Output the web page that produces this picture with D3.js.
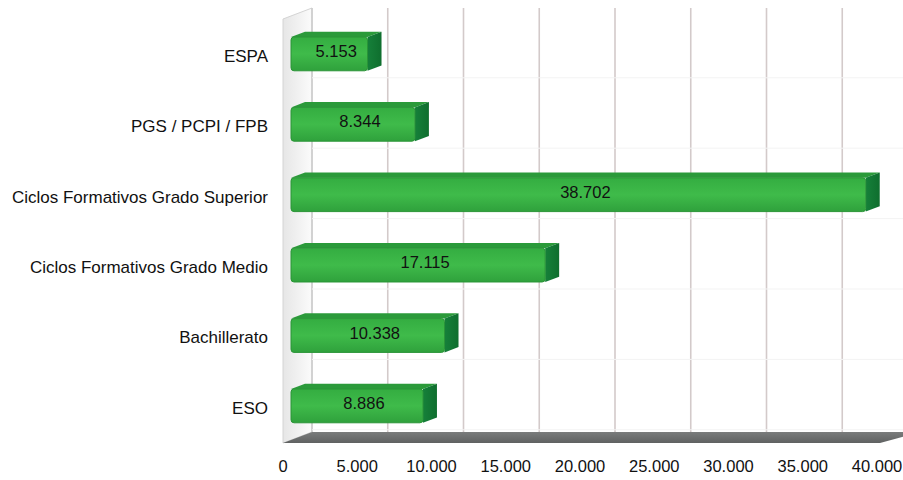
<!DOCTYPE html>
<html><head><meta charset="utf-8">
<script src="https://cdn.jsdelivr.net/npm/d3@7"></script>
<style>body{margin:0;background:#fff}svg{display:block}text{font-family:"Liberation Sans",Arial,sans-serif}</style>
</head><body>
<svg id="c" width="903" height="480"></svg>
<script>
const categories = ["ESPA","PGS / PCPI / FPB","Ciclos Formativos Grado Superior","Ciclos Formativos Grado Medio","Bachillerato","ESO"];
const values = [5153, 8344, 38702, 17115, 10338, 8886];
const valueLabels = ["5.153","8.344","38.702","17.115","10.338","8.886"];
const tickValues = [0,5000,10000,15000,20000,25000,30000,35000,40000];
const tickLabels = ["0","5.000","10.000","15.000","20.000","25.000","30.000","35.000","40.000"];

const svg = d3.select("#c");
const defs = svg.append("defs");
const x = d3.scaleLinear().domain([0,40000]).range([283,877]);
const y = d3.scaleBand().domain(categories).range([18.7,441.1]).paddingInner(0.52).paddingOuter(0.26);

const DX = 29, DY = -11;           // full depth of plot box
const bF = 8/29, bB = 22/29;       // bar front/back depth fractions
const floorY = 443, topY = 19;

// gradients
const lw = defs.append("linearGradient").attr("id","lw").attr("x1",0).attr("x2",1).attr("y1",0).attr("y2",0);
lw.append("stop").attr("offset",0).attr("stop-color","#e6e6e6");
lw.append("stop").attr("offset",1).attr("stop-color","#fbfbfb");
const fl = defs.append("linearGradient").attr("id","fl").attr("x1",0).attr("x2",0).attr("y1",0).attr("y2",1);
fl.append("stop").attr("offset",0).attr("stop-color","#7a7c7c");
fl.append("stop").attr("offset",1).attr("stop-color","#5f6161");
const ff = defs.append("linearGradient").attr("id","ff").attr("x1",0).attr("x2",0).attr("y1",0).attr("y2",1);
ff.append("stop").attr("offset",0).attr("stop-color","#34ad41");
ff.append("stop").attr("offset",0.5).attr("stop-color","#3fbb4a");
ff.append("stop").attr("offset",1).attr("stop-color","#2fa13c");
const fs = defs.append("linearGradient").attr("id","fs").attr("x1",0).attr("x2",1).attr("y1",0).attr("y2",0);
fs.append("stop").attr("offset",0).attr("stop-color","#16803a");
fs.append("stop").attr("offset",1).attr("stop-color","#0f6e2e");

// back wall
svg.append("rect").attr("x",x(0)+DX).attr("y",topY+DY).attr("width",903-(x(0)+DX)).attr("height",floorY-topY)
  .attr("fill","#ffffff");
// left wall
svg.append("path").attr("d",`M${x(0)},${topY}L${x(0)+DX},${topY+DY}L${x(0)+DX},${floorY+DY}L${x(0)},${floorY}Z`)
  .attr("fill","url(#lw)").attr("stroke","#d4d4d4").attr("stroke-width",1);
// back gridlines
svg.append("g").selectAll("line").data(tickValues).join("line")
  .attr("x1",d=>x(d)+DX+d/40000*12).attr("x2",d=>x(d)+DX+d/40000*12)
  .attr("y1",topY+DY).attr("y2",floorY+DY)
  .attr("stroke",d=>d===0?"#cccccc":"#d3caca").attr("stroke-width",1.6);
// faint horizontal lines on back wall
svg.append("g").selectAll("line").data(categories).join("line")
  .attr("x1",x(0)+DX).attr("x2",903)
  .attr("y1",d=>y(d)+y.bandwidth()+18+DY).attr("y2",d=>y(d)+y.bandwidth()+18+DY)
  .attr("stroke","#f3f3f3").attr("stroke-width",1);
// floor
svg.append("path").attr("d",`M${x(0)},${floorY}L${x(0)+DX},${floorY+DY}L${x(40000)+DX+14},${floorY+DY}L${x(40000)+3},${floorY}Z`)
  .attr("fill","url(#fl)");

// bars
const g = svg.append("g");
categories.forEach((c,i)=>{
  const x0 = x(0)+bF*DX, xv = x(values[i])+bF*DX;
  const y0 = y(c), y1 = y(c)+y.bandwidth();
  const dx = (bB-bF)*DX, dy = (bB-bF)*DY;
  g.append("path").attr("d",`M${x0},${y0}L${x0+dx},${y0+dy}L${xv+dx},${y0+dy}L${xv},${y0}Z`).attr("fill","#2b9a3a");
  g.append("path").attr("d",`M${xv},${y0}L${xv+dx},${y0+dy}L${xv+dx},${y1+dy}L${xv},${y1}Z`).attr("fill","url(#fs)");
  g.append("rect").attr("x",x0).attr("y",y0).attr("width",xv-x0).attr("height",y1-y0).attr("rx",3)
    .attr("fill","url(#ff)").attr("stroke","#2a9437").attr("stroke-width",1);
  g.append("text").attr("x",(x0+xv+dx)/2).attr("y",(y0+dy+y1)/2).attr("dy","0.35em")
    .attr("text-anchor","middle").attr("font-size",16.5).attr("fill","#111").text(valueLabels[i]);
});

// category labels
svg.append("g").selectAll("text").data(categories).join("text")
  .attr("x",268).attr("y",d=>y(d)+y.bandwidth()/2+2).attr("dy","0.35em")
  .attr("text-anchor","end").attr("font-size",17).attr("fill","#111").text(d=>d);

// x tick labels
svg.append("g").selectAll("text").data(tickValues).join("text")
  .attr("x",d=>x(d)).attr("y",466).attr("dy","0.35em")
  .attr("text-anchor","middle").attr("font-size",16.5).attr("fill","#111").text((d,i)=>tickLabels[i]);
</script>
</body></html>
